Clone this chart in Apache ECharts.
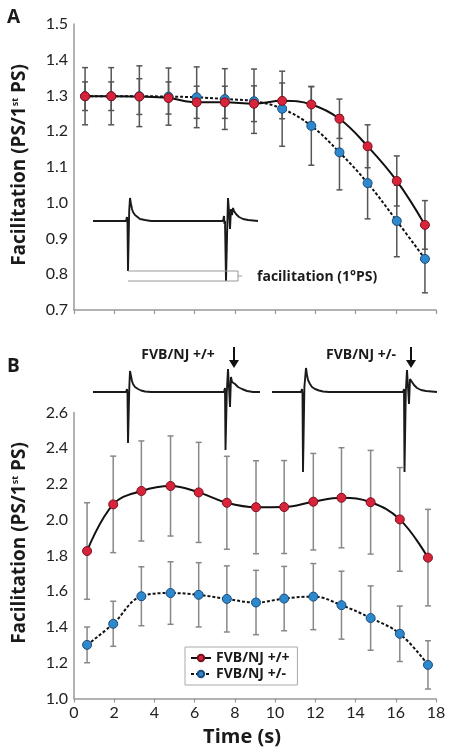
<!DOCTYPE html>
<html>
<head>
<meta charset="utf-8">
<script src="https://cdn.jsdelivr.net/npm/echarts@6/dist/echarts.min.js"></script>
<style>html,body{margin:0;padding:0;background:#fff;}#c{width:456px;height:755px;}</style>
</head>
<body>
<div id="c"></div>
<script>
// ---- Panel A data ----
var timeA = [0.55, 1.85, 3.25, 4.7, 6.1, 7.5, 8.95, 10.35, 11.8, 13.2, 14.6, 16.05, 17.45];
var wtA   = [1.298, 1.298, 1.297, 1.293, 1.281, 1.281, 1.277, 1.285, 1.275, 1.235, 1.158, 1.061, 0.938];
var wtAErr = [0.04, 0.04, 0.05, 0.045, 0.045, 0.045, 0.05, 0.05, 0.05, 0.055, 0.06, 0.07, 0.068];
var hetA  = [1.298, 1.298, 1.298, 1.297, 1.295, 1.290, 1.284, 1.263, 1.215, 1.141, 1.055, 0.949, 0.843];
var hetAErr = [0.08, 0.08, 0.085, 0.08, 0.085, 0.085, 0.09, 0.105, 0.11, 0.105, 0.10, 0.10, 0.095];
// ---- Panel B data ----
var timeB = [0.65, 1.95, 3.35, 4.8, 6.2, 7.6, 9.05, 10.45, 11.9, 13.3, 14.75, 16.2, 17.6];
var wtB   = [1.825, 2.086, 2.161, 2.189, 2.153, 2.095, 2.070, 2.071, 2.101, 2.123, 2.098, 2.002, 1.788];
var wtBErr = [0.27, 0.27, 0.28, 0.28, 0.28, 0.26, 0.26, 0.26, 0.27, 0.28, 0.29, 0.29, 0.27];
var hetB  = [1.300, 1.418, 1.572, 1.590, 1.580, 1.557, 1.537, 1.559, 1.570, 1.522, 1.450, 1.362, 1.188];
var hetBErr = [0.10, 0.126, 0.165, 0.175, 0.18, 0.185, 0.18, 0.18, 0.185, 0.19, 0.18, 0.155, 0.135];
// ---- axis ticks ----
var yTicksA = {min: 0.7, max: 1.5, interval: 0.1};
var yTicksB = {min: 1.0, max: 2.6, interval: 0.2};
var xTicks = {min: 0, max: 18, interval: 2};
var seriesNames = ['FVB/NJ +/+', 'FVB/NJ +/-'];
// ---- illustrative field-potential traces (x: sample position, y: amplitude) ----
var traceInsetA = [[0,0],[33,0],[34,4],[34.5,-2],[35,-50],[35.8,-50],[36.2,10],[37,23],[38,17],[39,12],[40,9],[42,6],[44,4],[47,2],[52,1],[58,0],[130,0],[131,5],[131.5,-3],[132,0],[133,-60],[133.8,-60],[134.4,0],[135,23],[136,10],[137,-8],[138,12],[139,6],[140,13],[141,10],[143,7],[146,4],[150,2],[155,1],[165,0]];
var bracketA = [[35,-50],[145,-50],[145,-60],[35,-60]];
var bracketTickA = [[145,-55],[149,-55]];
var traceWT = [[0,0],[33,0],[34,3],[34.5,-2],[35,-51],[35.8,-51],[36.3,5],[37,21],[38,16],[39,11],[40,8],[42,5],[45,3],[48,1.5],[52,0.5],[58,0],[131,0],[132,4],[132.5,-58],[133.3,-58],[133.8,0],[135,23],[136,5],[137,-15],[138,15],[139,10],[140,12],[142,8],[145,5],[149,3],[154,1],[160,0],[167,0]];
var traceHet = [[179,0],[208,0],[209,3],[209.5,-2],[210,-80],[210.8,-80],[211.4,5],[213,24],[214,17],[215,12],[217,8],[219,5],[222,3],[226,1.5],[230,0.5],[236,0],[310,0],[311,3],[311.5,-80],[312.3,-80],[312.8,0],[314,22],[315,5],[316,-12],[317,13],[319,10],[321,7],[324,4],[328,2],[333,1],[344,0]];

var RED = '#d8243a', RED_B = '#7a1020', BLUE = '#2e88cc', BLUE_B = '#1b4c7c';

function zip(xs, ys) { return xs.map(function (x, i) { return [x, ys[i]]; }); }
function zip3(xs, ys, es) { return xs.map(function (x, i) { return [x, ys[i], es[i]]; }); }

function errSeries(xi, yi, data, color) {
  return {
    type: 'custom', xAxisIndex: xi, yAxisIndex: yi, z: 1, silent: true,
    data: data,
    renderItem: function (params, api) {
      var x = api.value(0), y = api.value(1), e = api.value(2);
      var top = api.coord([x, y + e]), bot = api.coord([x, y - e]);
      var w = 3;
      var st = {stroke: color, lineWidth: 1.5};
      return {type: 'group', children: [
        {type: 'line', shape: {x1: top[0], y1: top[1], x2: bot[0], y2: bot[1]}, style: st},
        {type: 'line', shape: {x1: top[0]-w, y1: top[1], x2: top[0]+w, y2: top[1]}, style: st},
        {type: 'line', shape: {x1: bot[0]-w, y1: bot[1], x2: bot[0]+w, y2: bot[1]}, style: st}
      ]};
    }
  };
}
function lineSeries(name, xi, yi, data, fill, border, dashed) {
  return {
    name: name, type: 'line', xAxisIndex: xi, yAxisIndex: yi, z: 3,
    data: data, smooth: 0.4, symbol: 'circle', symbolSize: 9,
    itemStyle: {color: fill, borderColor: border, borderWidth: 1},
    lineStyle: {color: '#111', width: 2, type: dashed ? [3, 2] : 'solid'},
    emphasis: {disabled: true}
  };
}
function traceSeries(xi, yi, data, color, w) {
  return {type: 'line', xAxisIndex: xi, yAxisIndex: yi, z: 0, data: data, silent: true,
    showSymbol: false, symbol: 'none', lineStyle: {color: color || '#1a1a1a', width: w || 1.9}, emphasis: {disabled: true}};
}

var axisLineStyle = {lineStyle: {color: '#999', width: 1.5}};
var tickFont = {fontFamily: 'Lato', fontSize: 16, color: '#222'};

function mainX(gi, showLabel) {
  return {type: 'value', gridIndex: gi, min: xTicks.min, max: xTicks.max, interval: xTicks.interval,
    axisLine: axisLineStyle, axisTick: {show: true, length: 4, lineStyle: {color: '#999', width: 1.2}},
    splitLine: {show: false},
    axisLabel: Object.assign({show: showLabel, margin: 6}, tickFont)};
}
function mainY(gi, t) {
  return {type: 'value', gridIndex: gi, min: t.min, max: t.max, interval: t.interval,
    axisLine: Object.assign({show: true}, axisLineStyle), axisTick: {show: false}, splitLine: {show: false},
    axisLabel: Object.assign({margin: 6, formatter: function (v) { return v.toFixed(1); }}, tickFont)};
}
function hiddenAxis(gi, mn, mx) {
  return {type: 'value', gridIndex: gi, min: mn, max: mx, show: false, splitLine: {show: false}};
}

var titleRich = {s: {fontSize: 9, fontFamily: 'Open Sans', fontWeight: 'bold', verticalAlign: 'top', fill: '#1a1a1a'}};
function yTitle(x, y) {
  return {type: 'text', x: x, y: y, rotation: Math.PI / 2,
    style: {text: 'Facilitation (PS/1{s|st} PS)', fontFamily: 'Open Sans', fontWeight: 'bold', fontSize: 19,
      fill: '#1a1a1a', align: 'center', verticalAlign: 'middle', rich: titleRich}};
}
function arrow(x, y1, y2) {
  return {type: 'group', children: [
    {type: 'line', shape: {x1: x, y1: y1, x2: x, y2: y2 - 6}, style: {stroke: '#111', lineWidth: 2}},
    {type: 'polygon', shape: {points: [[x - 5, y2 - 8], [x + 5, y2 - 8], [x, y2]]}, style: {fill: '#111'}}
  ]};
}
var labelFont = {fontFamily: 'Open Sans', fontWeight: 'bold', fontSize: 14, fill: '#1a1a1a'};

var chart = echarts.init(document.getElementById('c'), null, {renderer: 'canvas'});
chart.setOption({
  animation: false,
  backgroundColor: '#fff',
  grid: [
    {left: 74, top: 24, width: 362, height: 286},
    {left: 74, top: 412.5, width: 362, height: 286},
    {left: 93, top: 196, width: 165, height: 87},
    {left: 93, top: 367, width: 344, height: 107}
  ],
  xAxis: [mainX(0, false), mainX(1, true), hiddenAxis(2, 0, 165), hiddenAxis(3, 0, 344)],
  yAxis: [mainY(0, yTicksA), mainY(1, yTicksB), hiddenAxis(2, -62, 25), hiddenAxis(3, -82, 25)],
  legend: {
    data: seriesNames, orient: 'vertical', left: 185, top: 647, itemWidth: 20, itemHeight: 8, itemGap: 2,
    borderColor: '#aaa', borderWidth: 1, padding: [4, 8, 4, 5], backgroundColor: '#fff',
    textStyle: {fontFamily: 'Open Sans', fontWeight: 'bold', fontSize: 14, color: '#1a1a1a', padding: [0, 0, 0, 0]},
    selectedMode: false
  },
  graphic: [
    {type: 'text', x: 7, y: 8, style: {text: 'A', fontFamily: 'Open Sans', fontWeight: 'bold', fontSize: 19, fill: '#1a1a1a'}},
    {type: 'text', x: 7, y: 357, style: {text: 'B', fontFamily: 'Open Sans', fontWeight: 'bold', fontSize: 19, fill: '#1a1a1a'}},
    yTitle(20, 165),
    yTitle(20, 543),
    {type: 'text', x: 242, y: 737, style: {text: 'Time (s)', align: 'center', verticalAlign: 'middle', fontFamily: 'Open Sans', fontWeight: 'bold', fontSize: 20, fill: '#1a1a1a'}},
    {type: 'text', x: 257, y: 277, style: Object.assign({text: 'facilitation (1°PS)', verticalAlign: 'middle'}, labelFont)},
    {type: 'text', x: 178, y: 355, style: Object.assign({text: 'FVB/NJ +/+', align: 'center', verticalAlign: 'middle'}, labelFont)},
    {type: 'text', x: 361, y: 355, style: Object.assign({text: 'FVB/NJ +/-', align: 'center', verticalAlign: 'middle'}, labelFont)},
    arrow(234, 347, 368),
    arrow(411, 347, 368)
  ],
  series: [
    errSeries(0, 0, zip3(timeA, hetA, hetAErr), '#555'),
    errSeries(0, 0, zip3(timeA, wtA, wtAErr), '#555'),
    lineSeries(seriesNames[1], 0, 0, zip(timeA, hetA), BLUE, BLUE_B, true),
    lineSeries(seriesNames[0], 0, 0, zip(timeA, wtA), RED, RED_B, false),
    errSeries(1, 1, zip3(timeB, wtB, wtBErr), '#888'),
    errSeries(1, 1, zip3(timeB, hetB, hetBErr), '#888'),
    lineSeries(seriesNames[0], 1, 1, zip(timeB, wtB), RED, RED_B, false),
    lineSeries(seriesNames[1], 1, 1, zip(timeB, hetB), BLUE, BLUE_B, true),
    traceSeries(2, 2, traceInsetA),
    traceSeries(2, 2, bracketA, '#999', 1),
    traceSeries(2, 2, bracketTickA, '#999', 1),
    traceSeries(3, 3, traceWT),
    traceSeries(3, 3, traceHet)
  ]
});
</script>
</body>
</html>
